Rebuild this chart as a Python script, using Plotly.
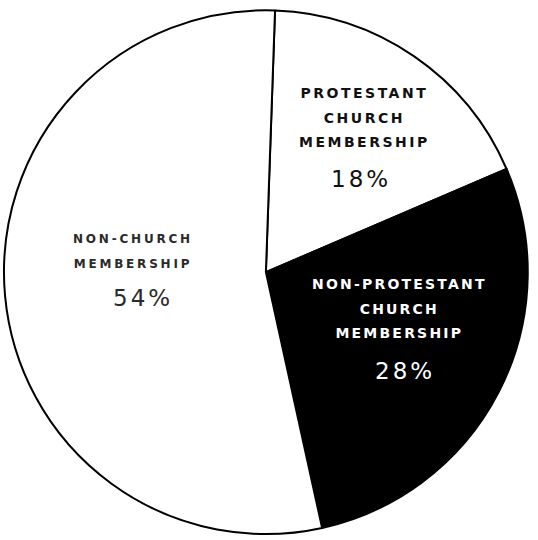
import plotly.graph_objects as go

labels = ["PROTESTANT<br>CHURCH<br>MEMBERSHIP", "NON-PROTESTANT<br>CHURCH<br>MEMBERSHIP", "NON-CHURCH<br>MEMBERSHIP"]
values = [18, 28, 54]
colors = ["#ffffff", "#000000", "#ffffff"]
text_colors = ["#111111", "#ffffff", "#2a2a2a"]
label_pos = [(0.678, 0.782), (0.743, 0.428), (0.247, 0.535)]
pct_pos = [(0.671, 0.668), (0.752, 0.313), (0.266, 0.448)]
label_sizes = [14, 14, 12]
label_spacing = [2.5, 2.2, 2.8]

fig = go.Figure(go.Pie(
    labels=labels, values=values, sort=False, direction="clockwise", rotation=2,
    marker=dict(colors=colors, line=dict(color="#000000", width=2)),
    textinfo="none", hoverinfo="label+percent", showlegend=False,
    domain=dict(x=[0.0074, 0.981], y=[0.011, 0.981]),
))

for lab, v, c, lp, pp, ls, sp in zip(labels, values, text_colors, label_pos, pct_pos, label_sizes, label_spacing):
    fig.add_annotation(
        x=lp[0], y=lp[1], xref="paper", yref="paper", showarrow=False,
        xanchor="center", yanchor="middle",
        text=f"<span style='font-size:{ls}px;letter-spacing:{sp}px;font-weight:bold'>{lab}</span>",
        font=dict(family="DejaVu Sans", size=19, color=c),
        align="center",
    )
    fig.add_annotation(
        x=pp[0], y=pp[1], xref="paper", yref="paper", showarrow=False,
        xanchor="center", yanchor="middle",
        text=f"<span style='letter-spacing:3px'>{v}%</span>",
        font=dict(family="DejaVu Sans", size=23, color=c),
        align="center",
    )

fig.update_layout(width=538, height=540, margin=dict(l=0, r=0, t=0, b=0),
                  paper_bgcolor="#ffffff", plot_bgcolor="#ffffff")
fig.write_html("out.html")
